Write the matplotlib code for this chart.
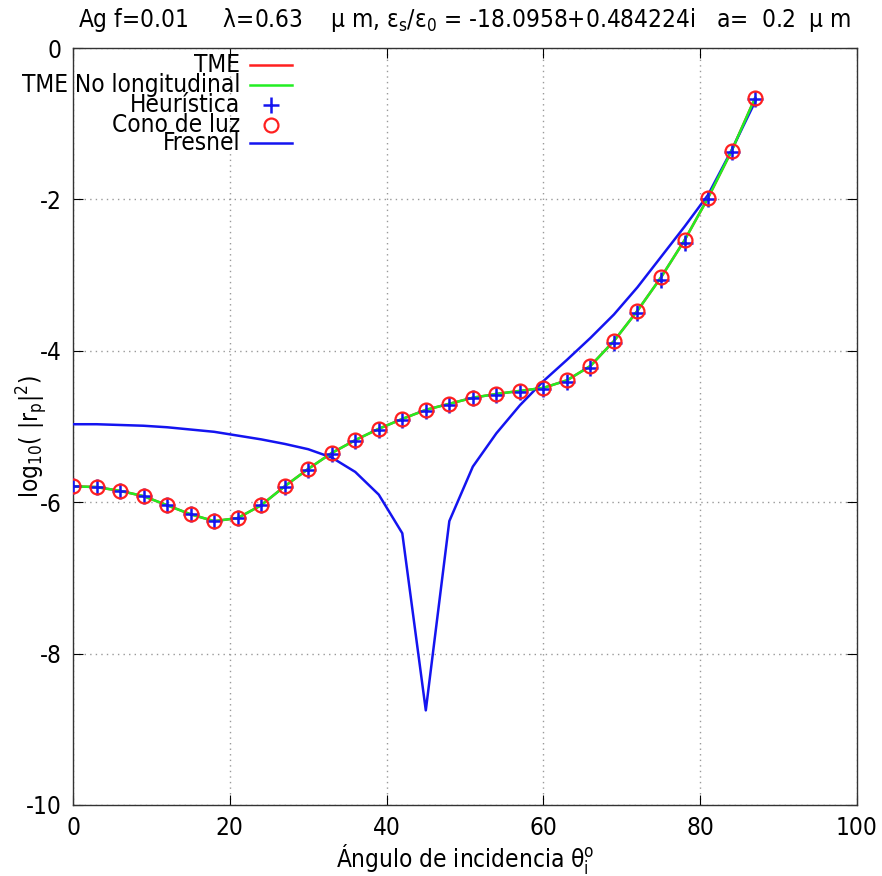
import matplotlib
matplotlib.use("Agg")
import matplotlib.pyplot as plt
import numpy as np

# ---- data ----
angles = [0, 3, 6, 9, 12, 15, 18, 21, 24, 27, 30, 33, 36, 39, 42, 45, 48, 51, 54, 57,
          60, 63, 66, 69, 72, 75, 78, 81, 84, 87]
tme = [-5.79, -5.80, -5.85, -5.92, -6.04, -6.16, -6.25, -6.21, -6.04, -5.79, -5.56, -5.35,
       -5.18, -5.03, -4.90, -4.78, -4.70, -4.62, -4.57, -4.53, -4.49, -4.39, -4.20, -3.87,
       -3.47, -3.03, -2.54, -1.98, -1.36, -0.66]
tme_nolong = list(tme)
heuristica = [-5.79, -5.80, -5.85, -5.92, -6.04, -6.16, -6.25, -6.21, -6.04, -5.80, -5.57, -5.36,
              -5.19, -5.04, -4.91, -4.79, -4.71, -4.63, -4.58, -4.54, -4.50, -4.41, -4.23, -3.90,
              -3.50, -3.06, -2.57, -2.00, -1.38, -0.68]
cono = list(tme)
fresnel = [-4.97, -4.97, -4.98, -4.99, -5.01, -5.04, -5.07, -5.12, -5.17, -5.23, -5.30, -5.41,
           -5.60, -5.90, -6.41, -8.75, -6.25, -5.53, -5.09, -4.72, -4.40, -4.12, -3.83, -3.52,
           -3.16, -2.76, -2.36, -1.94, -1.35, -0.71]

labels = ["TME", "TME No longitudinal", "Heurística", "Cono de luz", "Fresnel"]
xticks = [0, 20, 40, 60, 80, 100]
yticks = [0, -2, -4, -6, -8, -10]

RED = "#ff2020"
GREEN = "#22ee22"
BLUE = "#1414f0"

plt.rcParams['font.family'] = ['DejaVu Sans']
plt.rcParams['font.stretch'] = 'condensed'
plt.rcParams['mathtext.default'] = 'regular'

fig = plt.figure(figsize=(8.82, 8.76), dpi=100)
ax = fig.add_axes([73/882, 1-805/876, 784/882, 757/876])

FS = 17.5

ax.plot(angles, tme, color=RED, lw=1.8, zorder=3)
ax.plot(angles, tme_nolong, color=GREEN, lw=1.8, zorder=4)
ax.plot(angles, heuristica, ls='none', marker='+', color=BLUE, ms=11, mew=1.8, zorder=5)
ax.plot(angles, cono, ls='none', marker='o', mfc='none', mec=RED, ms=10, mew=1.6, zorder=6)
ax.plot(angles, fresnel, color=BLUE, lw=1.8, zorder=3)

ax.set_xlim(0, 100)
ax.set_ylim(-10, 0)
ax.set_xticks(xticks)
ax.set_yticks(yticks)
ax.set_xticklabels([str(t) for t in xticks], fontsize=FS)
ax.set_yticklabels([str(t) for t in yticks], fontsize=FS)
ax.tick_params(direction='in', length=7, top=True, right=True, width=0.8, pad=8)
ax.grid(True, color='#999999', ls=(0, (1, 3)), lw=1.0)
for s in ax.spines.values():
    s.set_linewidth(1.0)
    s.set_color('#333333')

ax.set_xlabel("Ángulo de incidencia $θ_i^o$", fontsize=FS, labelpad=1)
ax.set_ylabel("log$_{10}$( |r$_p$|$^2$)", fontsize=FS, va='center')
ax.yaxis.set_label_coords((32-73)/784, 0.486)

fig.text(465/882, 1-20/876, "Ag f=0.01     λ=0.63    μ m, $ε_s/ε_0$ = -18.0958+0.484224i   a=  0.2  μ m",
         ha='center', va='center', fontsize=FS)

# legend (text right of sample, right-aligned)
rows = [0.9775, 0.951, 0.9247, 0.898, 0.8745]
tx = 0.213
l0, l1 = 0.226, 0.279
mx = 0.2526
for i, (lab, y) in enumerate(zip(labels, rows)):
    ax.text(tx, y, lab, ha='right', va='center', transform=ax.transAxes, fontsize=FS, zorder=10)
    if i == 0:
        ax.plot([l0, l1], [y, y], color=RED, lw=1.8, transform=ax.transAxes, clip_on=False)
    elif i == 1:
        ax.plot([l0, l1], [y, y], color=GREEN, lw=1.8, transform=ax.transAxes, clip_on=False)
    elif i == 2:
        ax.plot([mx], [y], marker='+', color=BLUE, ms=11, mew=1.8, transform=ax.transAxes, clip_on=False)
    elif i == 3:
        ax.plot([mx], [y], marker='o', mfc='none', mec=RED, ms=10, mew=1.6, transform=ax.transAxes, clip_on=False)
    else:
        ax.plot([l0, l1], [y, y], color=BLUE, lw=1.8, transform=ax.transAxes, clip_on=False)

fig.savefig("out.png", dpi=100)
